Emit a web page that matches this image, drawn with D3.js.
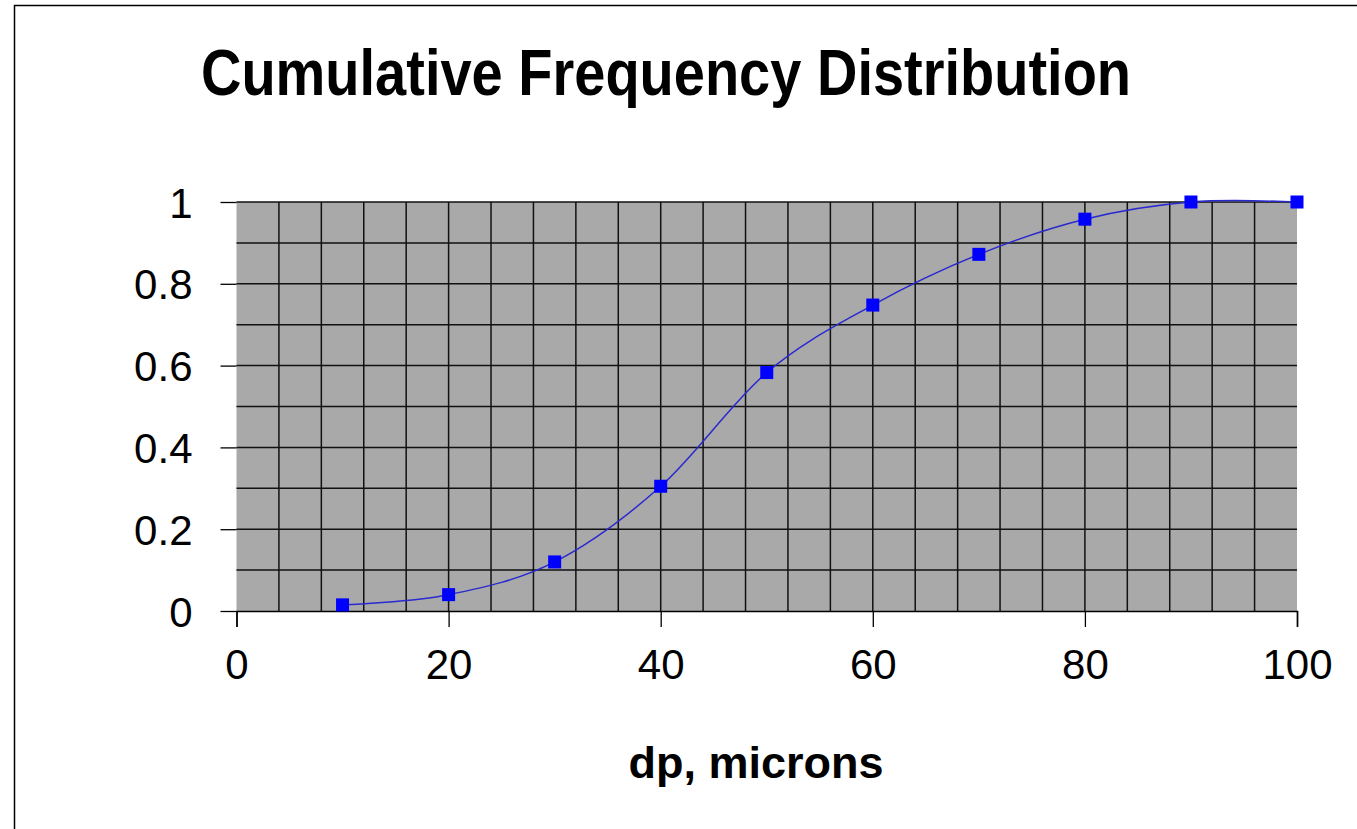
<!DOCTYPE html>
<html>
<head>
<meta charset="utf-8">
<script src="https://cdn.jsdelivr.net/npm/d3@7"></script>
<style>
body { margin:0; background:#fff; }
text { font-family: "Liberation Sans", Arial, sans-serif; }
</style>
</head>
<body>
<div id="chart"></div>
<script>
// data
var dp = [10, 20, 30, 40, 50, 60, 70, 80, 90, 100];
var cumFreq = [0.015, 0.04, 0.12, 0.305, 0.583, 0.748, 0.872, 0.958, 1.0, 1.0];
var xTicks = [0, 20, 40, 60, 80, 100];
var yTicks = [0, 0.2, 0.4, 0.6, 0.8, 1];
var xGrid = d3.range(4, 100, 4);
var yGrid = d3.range(1, 11).map(function(d){ return d / 10; });

var W = 1357, H = 829;
var plot = {left:236.5, right:1297, top:202, bottom:611};

var svg = d3.select("#chart").append("svg")
	.attr("width", W)
	.attr("height", H);

// outer frame
svg.append("rect")
	.attr("x", 14.5).attr("y", 5.5)
	.attr("width", W + 20).attr("height", H + 20)
	.attr("fill", "#fff")
	.attr("stroke", "#000")
	.attr("stroke-width", 1.5);

var x = d3.scaleLinear().domain([0, 100]).range([plot.left, plot.right]);
var y = d3.scaleLinear().domain([0, 1]).range([plot.bottom, plot.top]);

svg.append("rect")
	.attr("x", plot.left).attr("y", plot.top)
	.attr("width", plot.right - plot.left)
	.attr("height", plot.bottom - plot.top)
	.attr("fill", "#a9a9a9");

// gridlines
svg.append("g").selectAll("line")
	.data(xGrid)
  .enter().append("line")
	.attr("x1", function(d){ return x(d); })
	.attr("x2", function(d){ return x(d); })
	.attr("y1", plot.top).attr("y2", plot.bottom)
	.attr("stroke", "#111").attr("stroke-width", 1.5);

svg.append("g").selectAll("line")
	.data(yGrid)
  .enter().append("line")
	.attr("x1", plot.left).attr("x2", plot.right)
	.attr("y1", function(d){ return y(d); })
	.attr("y2", function(d){ return y(d); })
	.attr("stroke", "#111").attr("stroke-width", 1.5);

// axes
var xAxis = svg.append("g")
	.attr("transform", "translate(0," + plot.bottom + ")")
	.call(d3.axisBottom(x).tickValues(xTicks).tickSize(16).tickPadding(22).tickFormat(d3.format("d")));
var yAxis = svg.append("g")
	.attr("transform", "translate(" + plot.left + ",0)")
	.call(d3.axisLeft(y).tickValues(yTicks).tickSize(16).tickPadding(28).tickFormat(function(d){ return d3.format("")(d); }));

yAxis.select(".domain").remove();
xAxis.select(".domain").attr("stroke", "#000").attr("stroke-width", 1.5);
svg.selectAll(".tick line").attr("stroke", "#000").attr("stroke-width", 1.3);
svg.selectAll(".tick text")
	.attr("fill", "#000")
	.style("font-family", "'Liberation Sans', Arial, sans-serif")
	.style("font-size", "42px");
xAxis.selectAll(".tick text").attr("dy", "0.71em");
yAxis.selectAll(".tick text").attr("dy", "0.36em");

// smoothed line
var line = d3.line()
	.x(function(d, i){ return x(dp[i]); })
	.y(function(d){ return y(d); })
	.curve(d3.curveCardinal.tension(0));

svg.append("path")
	.datum(cumFreq)
	.attr("d", line)
	.attr("fill", "none")
	.attr("stroke", "#2a2ad0")
	.attr("stroke-width", 1.5);

var s = 13;
svg.append("g").selectAll("rect")
	.data(cumFreq)
  .enter().append("rect")
	.attr("x", function(d, i){ return x(dp[i]) - s / 2; })
	.attr("y", function(d){ return y(d) - s / 2; })
	.attr("width", s).attr("height", s)
	.attr("fill", "#0000ff");

// titles (title glyphs are a bit taller than wide in the original)
svg.append("text")
	.attr("transform", "translate(666,95) scale(1,1.15)")
	.attr("text-anchor", "middle")
	.style("font-size", "56px")
	.style("font-weight", "bold")
	.text("Cumulative Frequency Distribution");

svg.append("text")
	.attr("x", 756).attr("y", 778)
	.attr("text-anchor", "middle")
	.style("font-size", "45px")
	.style("font-weight", "bold")
	.text("dp, microns");
</script>
</body>
</html>
